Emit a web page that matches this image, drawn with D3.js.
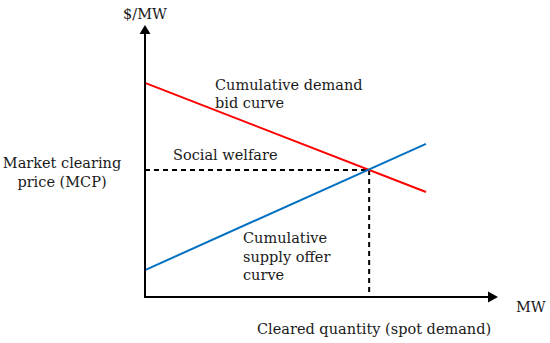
<!DOCTYPE html>
<html>
<head>
<meta charset="utf-8">
<script src="https://cdn.jsdelivr.net/npm/d3@7"></script>
<style>
  html, body { margin: 0; padding: 0; background: #fff; }
  svg text { font-family: "DejaVu Serif", serif; fill: #1a1a1a; }
</style>
</head>
<body>
<svg id="chart" width="550" height="343"></svg>
<script>
// Data (in arbitrary units)
const demandQty = [0, 7.96];
const demandPrice = [7.87, 3.86];
const supplyQty = [0, 7.96];
const supplyPrice = [0.99, 5.63];
const clearingQty = [6.35];
const clearingPrice = [4.67];
const axisMax = [10, 10];

const svg = d3.select("#chart");
const x = d3.scaleLinear().domain([0, axisMax[0]]).range([145, 498]);
const y = d3.scaleLinear().domain([0, axisMax[1]]).range([297, 25]);

const line = d3.line().x(d => x(d[0])).y(d => y(d[1]));

// dashed guide lines
const cq = clearingQty[0], cp = clearingPrice[0];
svg.append("path").attr("d", line([[0, cp], [cq, cp]]))
  .attr("stroke", "#000").attr("stroke-width", 2).attr("stroke-dasharray", "5,4").attr("fill", "none");
svg.append("path").attr("d", line([[cq, cp], [cq, 0]]))
  .attr("stroke", "#000").attr("stroke-width", 2).attr("stroke-dasharray", "5,4").attr("fill", "none");

// curves
svg.append("path").attr("d", line(demandQty.map((q, i) => [q, demandPrice[i]])))
  .attr("stroke", "#ff0000").attr("stroke-width", 2).attr("fill", "none");
svg.append("path").attr("d", line(supplyQty.map((q, i) => [q, supplyPrice[i]])))
  .attr("stroke", "#0070c0").attr("stroke-width", 2).attr("fill", "none");

// axes
svg.append("line").attr("x1", x(0)).attr("y1", y(0)).attr("x2", x(0)).attr("y2", y(axisMax[1]) + 6)
  .attr("stroke", "#000").attr("stroke-width", 2);
svg.append("line").attr("x1", x(0) - 1).attr("y1", y(0)).attr("x2", x(axisMax[0]) - 6).attr("y2", y(0))
  .attr("stroke", "#000").attr("stroke-width", 2);
// arrowheads
const tx = x(0), ty = y(axisMax[1]);
svg.append("path").attr("d", `M${tx},${ty} L${tx - 5.5},${ty + 9} L${tx + 5.5},${ty + 9} Z`).attr("fill", "#000");
const rx = x(axisMax[0]), ry = y(0);
svg.append("path").attr("d", `M${rx},${ry} L${rx - 10},${ry - 5.5} L${rx - 10},${ry + 5.5} Z`).attr("fill", "#000");

// labels
const fs = 14.5;
function label(lines, xpos, ybase, anchor, lh) {
  const t = svg.append("text").attr("font-size", fs).attr("text-anchor", anchor || "start");
  lines.forEach((s, i) => t.append("tspan").attr("x", xpos).attr("y", ybase + i * (lh || 18)).text(s));
}
label(["$/MW"], 145, 19, "middle");
label(["MW"], 516, 312);
label(["Market clearing", "price (MCP)"], 62, 168, "middle", 19);
label(["Cumulative demand", "bid curve"], 215, 90, "start", 17.5);
label(["Social welfare"], 173, 160);
label(["Cumulative", "supply offer", "curve"], 243, 243, "start", 18.5);
label(["Cleared quantity (spot demand)"], 257, 334);
</script>
</body>
</html>
